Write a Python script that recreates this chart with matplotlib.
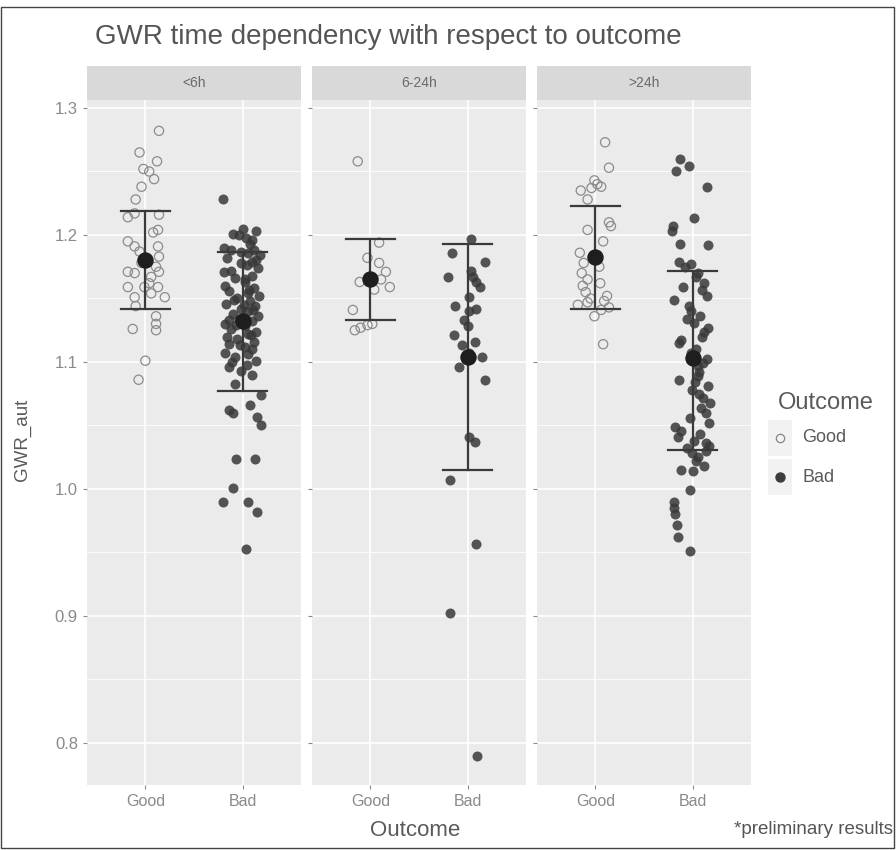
# GWR time dependency chart, ggplot-like facets

import numpy as np
import matplotlib
matplotlib.use("Agg")
import matplotlib.pyplot as plt
from matplotlib.patches import Rectangle

plt.rcParams['font.family'] = ['Liberation Sans', 'DejaVu Sans']

facets = ["<6h", "6-24h", ">24h"]
outcomes = ["Good", "Bad"]

# raw points (value, jitter offset in category units)
p1_good = [1.282, 1.265, 1.258, 1.252, 1.250, 1.244, 1.238, 1.228, 1.214, 1.217, 1.216, 1.204,
           1.202, 1.195, 1.191, 1.191, 1.187, 1.183, 1.178, 1.175, 1.171, 1.170, 1.171, 1.167,
           1.162, 1.159, 1.159, 1.159, 1.151, 1.154, 1.151, 1.144, 1.136, 1.126, 1.130, 1.125,
           1.101, 1.086]
p1_good_jit = [0.14, -0.06, 0.12, -0.02, 0.04, 0.09, -0.04, -0.10, -0.18, -0.11, 0.14, 0.13,
               0.08, -0.18, -0.11, 0.13, -0.06, 0.14, -0.04, 0.11, -0.18, -0.11, 0.14, 0.06,
               0.04, -0.18, -0.01, 0.13, -0.11, 0.06, 0.20, -0.10, 0.11, -0.13, 0.11, 0.11,
               0.0, -0.07]

p1_bad = [1.228, 1.205, 1.203, 1.200, 1.198, 1.196, 1.190, 1.188, 1.186, 1.184, 1.182, 1.180,
          1.178, 1.176, 1.174, 1.171, 1.168, 1.166, 1.163, 1.160, 1.158, 1.156, 1.154, 1.152,
          1.150, 1.148, 1.146, 1.144, 1.142, 1.140, 1.138, 1.136, 1.134, 1.132, 1.130, 1.128,
          1.126, 1.124, 1.122, 1.120, 1.118, 1.116, 1.114, 1.112, 1.110, 1.107, 1.104, 1.101,
          1.098, 1.096, 1.093, 1.090, 1.083, 1.074, 1.066, 1.062, 1.060, 1.057, 1.050, 1.024,
          1.024, 1.001, 0.990, 0.990, 0.982, 0.953,
          1.201, 1.193, 1.187, 1.179, 1.172, 1.165, 1.157, 1.149, 1.141, 1.135, 1.129, 1.121,
          1.113, 1.106, 1.100, 1.188, 1.145, 1.133]
p1_bad_jit = [-0.20, 0.00, 0.14, -0.04, 0.03, 0.10, -0.19, -0.12, 0.06, 0.18, -0.16, 0.14,
              -0.02, 0.04, 0.16, -0.19, 0.10, -0.08, 0.02, -0.18, 0.12, -0.14, 0.05, 0.17,
              -0.06, 0.08, -0.17, 0.13, -0.02, 0.06, -0.10, 0.16, -0.04, 0.10, -0.18, 0.02,
              -0.12, 0.14, 0.06, -0.16, -0.06, 0.12, -0.14, 0.02, 0.10, -0.18, -0.08, 0.14,
              0.04, -0.14, -0.02, 0.10, -0.08, 0.19, 0.08, -0.14, -0.10, 0.15, 0.19, -0.07,
              0.13, -0.10, -0.20, 0.05, 0.15, 0.03,
              -0.10, 0.08, -0.02, 0.10, -0.12, 0.02, 0.07, -0.09, 0.11, 0.00, -0.07, 0.09,
              -0.03, 0.06, -0.11, 0.12, 0.01, -0.14]

p2_good = [1.258, 1.194, 1.182, 1.178, 1.171, 1.163, 1.165, 1.159, 1.157, 1.141, 1.125, 1.127,
           1.129, 1.130]
p2_good_jit = [-0.13, 0.09, -0.03, 0.09, 0.16, -0.11, 0.11, 0.20, 0.04, -0.18, -0.16, -0.10,
               -0.03, 0.02]

p2_bad = [1.197, 1.186, 1.179, 1.167, 1.172, 1.167, 1.163, 1.159, 1.151, 1.144, 1.140, 1.142,
          1.133, 1.128, 1.121, 1.116, 1.113, 1.107, 1.104, 1.096, 1.086, 1.041, 1.037, 1.007,
          0.957, 0.902, 0.790]
p2_bad_jit = [0.03, -0.16, 0.18, -0.20, 0.03, 0.06, 0.09, 0.13, 0.01, -0.13, 0.01, 0.09,
              -0.04, 0.00, -0.14, 0.08, -0.06, 0.01, 0.15, -0.09, 0.18, 0.01, 0.08, -0.18,
              0.09, -0.18, 0.10]

p3_good = [1.273, 1.253, 1.243, 1.240, 1.238, 1.237, 1.235, 1.228, 1.210, 1.207, 1.204, 1.195,
           1.186, 1.178, 1.175, 1.170, 1.165, 1.162, 1.160, 1.155, 1.150, 1.147, 1.152, 1.148,
           1.145, 1.143, 1.141, 1.136, 1.114]
p3_good_jit = [0.10, 0.14, -0.01, 0.02, 0.06, -0.04, -0.15, -0.08, 0.14, 0.16, -0.08, 0.08,
               -0.16, -0.12, 0.04, -0.14, -0.08, 0.05, -0.13, -0.10, -0.05, -0.08, 0.12, 0.09,
               -0.18, 0.14, 0.06, -0.01, 0.08]

p3_bad = [1.260, 1.254, 1.250, 1.238, 1.213, 1.207, 1.203, 1.193, 1.192, 1.179, 1.177, 1.175,
          1.170, 1.167, 1.162, 1.159, 1.157, 1.152, 1.149, 1.144, 1.140, 1.136, 1.134, 1.131,
          1.127, 1.124, 1.120, 1.117, 1.115, 1.110, 1.107, 1.104, 1.102, 1.099, 1.097, 1.092,
          1.089, 1.086, 1.084, 1.081, 1.078, 1.075, 1.072, 1.068, 1.064, 1.060, 1.056, 1.052,
          1.049, 1.046, 1.043, 1.041, 1.038, 1.036, 1.034, 1.032, 1.030, 1.028, 1.025, 1.022,
          1.018, 1.015, 1.014, 0.999, 0.990, 0.985, 0.980, 0.972, 0.962, 0.951]
p3_bad_jit = [-0.13, -0.04, -0.17, 0.15, 0.01, -0.20, -0.21, -0.13, 0.16, -0.14, -0.02, -0.08,
              0.06, 0.03, 0.12, -0.10, 0.10, 0.15, -0.19, -0.04, -0.02, 0.08, -0.06, 0.01,
              0.16, 0.12, 0.10, -0.12, -0.14, 0.03, -0.02, 0.00, 0.15, 0.11, 0.05, 0.07,
              0.06, -0.14, 0.02, 0.16, -0.01, 0.07, 0.11, 0.18, 0.09, 0.14, -0.03, 0.17,
              -0.18, -0.12, 0.08, -0.15, 0.01, 0.14, 0.17, -0.06, 0.14, -0.01, 0.06, 0.03,
              0.12, -0.12, 0.00, -0.03, -0.19, -0.19, -0.18, -0.16, -0.15, -0.03]

# summary (mean, lower, upper) per facet: [Good, Bad]
means = [[1.180, 1.132], [1.165, 1.104], [1.183, 1.103]]
lows = [[1.142, 1.077], [1.133, 1.015], [1.142, 1.031]]
highs = [[1.219, 1.187], [1.197, 1.193], [1.223, 1.172]]

good_pts = [(p1_good, p1_good_jit), (p2_good, p2_good_jit), (p3_good, p3_good_jit)]
bad_pts = [(p1_bad, p1_bad_jit), (p2_bad, p2_bad_jit), (p3_bad, p3_bad_jit)]

W, H = 896, 850
fig = plt.figure(figsize=(W / 100, H / 100), dpi=100)

def fx(px):
    return px / W

def fy(py):
    return 1 - py / H

panel_left = [87, 312, 537]
panel_w = 214
top, bottom = 100, 785
strip_top = 66

txt_col = "#6b6b6b"
bg = "#EBEBEB"

for i in range(3):
    ax = fig.add_axes([fx(panel_left[i]), fy(bottom), fx(panel_w), (bottom - top) / H])
    ax.set_facecolor(bg)
    for s in ax.spines.values():
        s.set_visible(False)
    ax.set_xlim(0.4, 2.6)
    ax.set_ylim(0.7669, 1.3063)
    for y in np.arange(0.85, 1.3, 0.1):
        ax.axhline(y, color="white", lw=0.6, zorder=0)
    for y in np.arange(0.8, 1.31, 0.1):
        ax.axhline(y, color="white", lw=1.2, zorder=0)
    for x in [1, 2]:
        ax.axvline(x, color="white", lw=1.2, zorder=0)

    g, gj = good_pts[i]
    b, bj = bad_pts[i]
    ax.scatter(1 + np.array(gj), g, s=44, facecolors="none", edgecolors="#8c8c8c",
               linewidths=0.9, zorder=2)
    ax.scatter(2 + np.array(bj), b, s=52, color="#383838", alpha=0.85,
               linewidths=0, zorder=2)

    for k, xc in enumerate([1, 2]):
        ax.plot([xc, xc], [lows[i][k], highs[i][k]], color="#3a3a3a", lw=1.6, zorder=3)
        for yv in [lows[i][k], highs[i][k]]:
            ax.plot([xc - 0.25, xc + 0.25], [yv, yv], color="#3a3a3a", lw=1.6, zorder=3)
        ax.scatter([xc], [means[i][k]], s=140, color="#1e1e1e", zorder=4, linewidths=0)

    ax.set_xticks([1, 2])
    ax.set_xticklabels(outcomes, fontsize=11.5, color=txt_col)
    ax.set_yticks([0.8, 0.9, 1.0, 1.1, 1.2, 1.3])
    if i == 0:
        ax.set_yticklabels(["0.8", "0.9", "1.0", "1.1", "1.2", "1.3"], fontsize=12, color=txt_col)
    else:
        ax.tick_params(axis="y", length=0, labelleft=False)
    ax.tick_params(colors="#8a8a8a", length=3, width=0.8)

    # strip
    sax = fig.add_axes([fx(panel_left[i]), fy(top), fx(panel_w), (top - strip_top) / H])
    sax.set_facecolor("#D9D9D9")
    sax.set_xticks([])
    sax.set_yticks([])
    for s in sax.spines.values():
        s.set_visible(False)
    sax.text(0.5, 0.5, facets[i], ha="center", va="center", fontsize=10,
             color="#6a6a6a", transform=sax.transAxes)

fig.text(fx(95), fy(37), "GWR time dependency with respect to outcome", fontsize=20,
         color="#555555", ha="left", va="center")
fig.text(fx(22), fy(440), "GWR_aut", rotation=90, fontsize=13.5, color="#5a5a5a",
         ha="center", va="center")
fig.text(fx(415), fy(830), "Outcome", fontsize=16, color="#5a5a5a", ha="center", va="center")
fig.text(fx(893), fy(830), "*preliminary results", fontsize=13.5, color="#555555",
         ha="right", va="center")

# legend
fig.text(fx(778), fy(403), "Outcome", fontsize=17, color="#5a5a5a", ha="left", va="center")
for yk, lab, filled in [(438, "Good", False), (477, "Bad", True)]:
    fig.patches.append(Rectangle((fx(768), fy(yk + 18)), fx(24), 36 / H,
                                 transform=fig.transFigure, facecolor="#F2F2F2",
                                 edgecolor="none"))
    if filled:
        fig.lines.append(plt.Line2D([fx(780)], [fy(yk)], marker="o", markersize=6.5,
                                    color="#3c3c3c", transform=fig.transFigure))
    else:
        fig.lines.append(plt.Line2D([fx(780)], [fy(yk)], marker="o", markersize=6,
                                    markerfacecolor="none", markeredgecolor="#858585",
                                    markeredgewidth=0.9, transform=fig.transFigure))
    fig.text(fx(802), fy(yk), lab, fontsize=13, color="#5a5a5a", ha="left", va="center")

# outer frame
fig.patches.append(Rectangle((fx(1), fy(848)), fx(893), (848 - 7) / H,
                             transform=fig.transFigure, facecolor="none",
                             edgecolor="#444444", lw=1.0))

fig.savefig("out.png", dpi=100)
